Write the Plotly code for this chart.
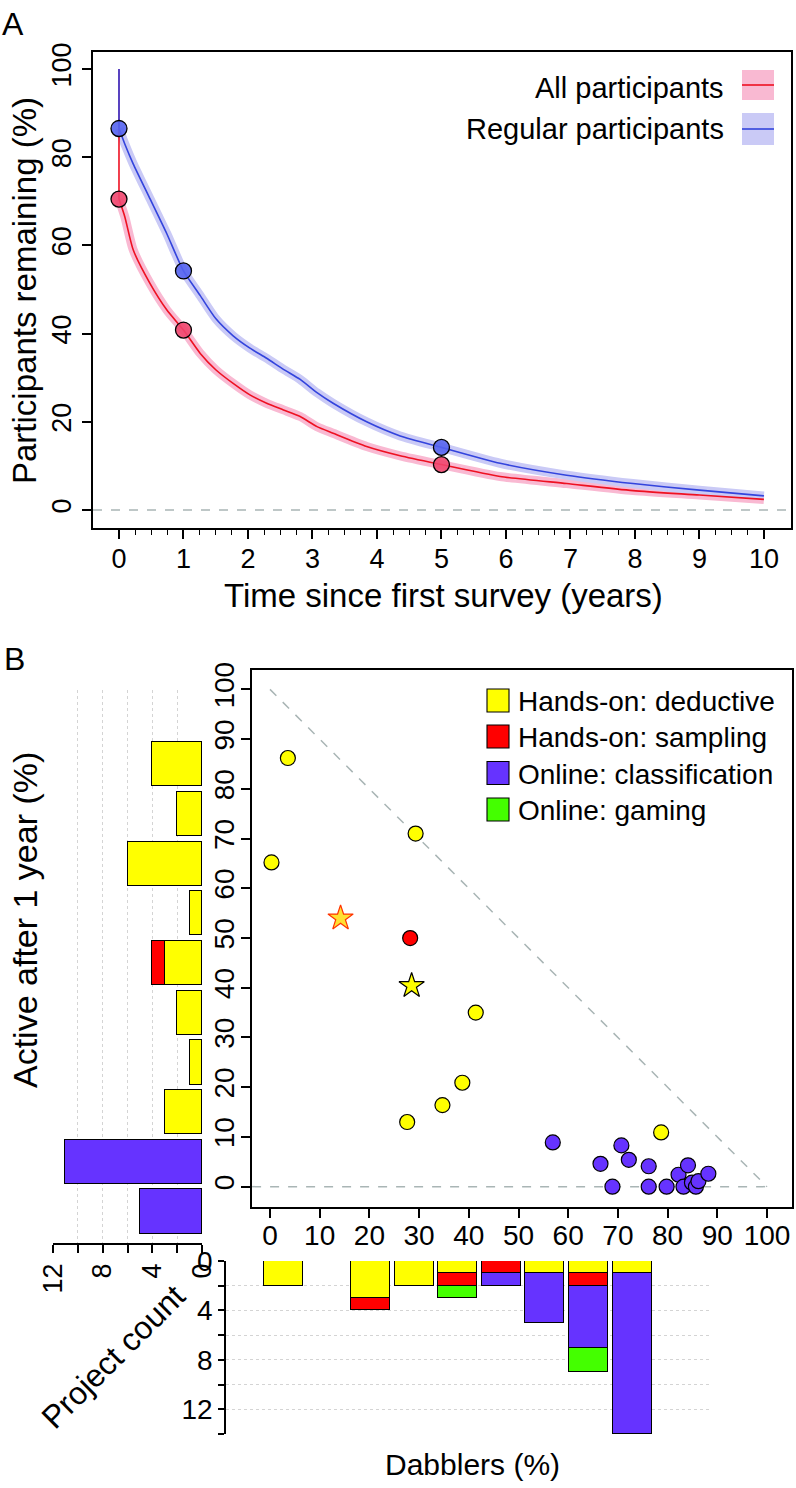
import plotly.graph_objects as go

W, H = 796, 1488
FONT = "Liberation Sans, Arial, Helvetica, sans-serif"


def fx(p):
    return p / W


def fy(p):
    return 1 - p / H


# ---------------- Panel A data ----------------
years = [0, 0, 0.09, 0.22, 0.48, 0.74, 1.0, 1.26, 1.5, 1.77, 2.03, 2.29, 2.55, 2.81,
         3.07, 3.32, 3.84, 4.36, 5.0, 5.91, 6.94, 7.97, 9.0, 10.0]
all_participants = [100, 70.5, 66.5, 59.0, 51.4, 45.4, 40.8, 35.5, 31.8, 28.7, 26.1, 24.2,
                    22.7, 21.2, 18.9, 17.4, 14.4, 12.3, 10.3, 7.6, 6.0, 4.4, 3.4, 2.4]
regular_participants = [100, 86.5, 83.0, 78.5, 70.6, 62.7, 54.2, 48.6, 43.4, 39.5, 36.7, 34.4,
                        31.9, 29.6, 26.6, 24.2, 20.0, 16.8, 14.2, 10.6, 7.9, 6.0, 4.5, 3.2]
key_years = [0, 1, 5]
key_all = [70.5, 40.8, 10.3]
key_regular = [86.5, 54.2, 14.2]
year_ticks = list(range(0, 11))
pct_ticks_a = [0, 20, 40, 60, 80, 100]

# ---------------- Panel B scatter data ----------------
deductive_x = [0.3, 3.6, 29.3, 41.4, 38.7, 34.7, 27.6, 78.7]
deductive_y = [65.2, 86.2, 71.0, 35.0, 20.9, 16.4, 13.0, 10.9]
sampling_x = [28.2]
sampling_y = [50.0]
classification_x = [56.9, 66.5, 70.7, 72.2, 68.9, 76.2, 76.2, 79.8, 82.2, 84.1, 83.2, 84.9,
                    85.7, 86.2, 88.2]
classification_y = [8.9, 4.6, 8.3, 5.4, 0.0, 4.1, 0.0, 0.0, 2.4, 4.3, 0.0, 0.8, 0.0, 1.1, 2.6]
star_x = [14.2, 28.5]
star_y = [54.0, 40.4]
pct_ticks_b = list(range(0, 101, 10))

# left histogram (Active after 1 year, bins of 10)
active_bins = [-5, 5, 15, 25, 35, 45, 55, 65, 75, 85]
left_deductive = [0, 0, 3, 1, 2, 3, 1, 6, 2, 4]
left_sampling = [0, 0, 0, 0, 0, 1, 0, 0, 0, 0]
left_classification = [5, 11, 0, 0, 0, 0, 0, 0, 0, 0]
left_gaming = [0, 0, 0, 0, 0, 0, 0, 0, 0, 0]

# bottom histogram (Dabblers, bins of 10)
dabbler_bins = [5, 15, 25, 35, 45, 55, 65, 75, 85]
bottom_deductive = [2, 0, 3, 2, 1, 0, 1, 1, 1]
bottom_sampling = [0, 0, 1, 0, 1, 1, 0, 1, 0]
bottom_classification = [0, 0, 0, 0, 0, 1, 4, 5, 13]
bottom_gaming = [0, 0, 0, 0, 1, 0, 0, 2, 0]
count_ticks = [0, 2, 4, 6, 8, 10, 12]
count_ticks_bottom = [0, 2, 4, 6, 8, 10, 12, 14]

categories = ["Hands-on: deductive", "Hands-on: sampling", "Online: classification", "Online: gaming"]
cat_colors = ["#FFFF00", "#FF0000", "#6633FF", "#44FF00"]

RED_LINE = "#EE1122"
BLUE_LINE = "#3344DD"
RED_BAND = "#F9B9D2"
BLUE_BAND = "#CACAF6"

fig = go.Figure()

# ---- Panel A ----
curve_shape = dict(shape="spline", smoothing=0.6)
series = [(all_participants, RED_BAND, RED_LINE), (regular_participants, BLUE_BAND, BLUE_LINE)]
# confidence bands (drawn as wide translucent strokes)
for vals, band, _ in series:
    fig.add_trace(go.Scatter(x=years[1:], y=vals[1:], mode="lines",
                             line=dict(color=band, width=9, **curve_shape), xaxis="x", yaxis="y"))
# initial vertical drop at t = 0, then the survival curves
for vals, _, col in series:
    fig.add_trace(go.Scatter(x=years[:2], y=vals[:2], mode="lines",
                             line=dict(color=col, width=1.6), xaxis="x", yaxis="y"))
for vals, _, col in series:
    fig.add_trace(go.Scatter(x=years[1:], y=vals[1:], mode="lines",
                             line=dict(color=col, width=1.6, **curve_shape), xaxis="x", yaxis="y"))
fig.add_trace(go.Scatter(x=key_years, y=key_all, mode="markers",
                         marker=dict(size=16, color="rgba(240,70,110,0.9)",
                                     line=dict(color="black", width=1.3)),
                         xaxis="x", yaxis="y"))
fig.add_trace(go.Scatter(x=key_years, y=key_regular, mode="markers",
                         marker=dict(size=16, color="rgba(85,100,240,0.9)",
                                     line=dict(color="black", width=1.3)),
                         xaxis="x", yaxis="y"))

# ---- Panel B scatter ----
fig.add_trace(go.Scatter(x=deductive_x, y=deductive_y, mode="markers",
                         marker=dict(size=15, color=cat_colors[0], line=dict(color="black", width=1.2)),
                         xaxis="x2", yaxis="y2"))
fig.add_trace(go.Scatter(x=sampling_x, y=sampling_y, mode="markers",
                         marker=dict(size=15, color=cat_colors[1], line=dict(color="black", width=1.2)),
                         xaxis="x2", yaxis="y2"))
fig.add_trace(go.Scatter(x=classification_x, y=classification_y, mode="markers",
                         marker=dict(size=15, color=cat_colors[2], line=dict(color="black", width=1.2)),
                         xaxis="x2", yaxis="y2"))
fig.add_trace(go.Scatter(x=star_x, y=star_y, mode="markers",
                         marker=dict(symbol="star", size=19, color=["#FFE033", "#FFFF00"],
                                     line=dict(color=["#FF3300", "black"], width=1.2)),
                         xaxis="x2", yaxis="y2"))

# ---- left histogram ----
for vals, col in zip([left_deductive, left_sampling, left_classification, left_gaming], cat_colors):
    fig.add_trace(go.Bar(x=vals, y=active_bins, orientation="h", width=8.9,
                         marker=dict(color=col, line=dict(color="black", width=1.1)),
                         xaxis="x3", yaxis="y3"))

# ---- bottom histogram ----
for vals, col in zip([bottom_deductive, bottom_sampling, bottom_classification, bottom_gaming], cat_colors):
    fig.add_trace(go.Bar(x=dabbler_bins, y=vals, width=8.95,
                         marker=dict(color=col, line=dict(color="black", width=1.1)),
                         xaxis="x4", yaxis="y4"))

axis_common = dict(showgrid=False, zeroline=False, showline=True, linecolor="black",
                   linewidth=1.5, ticks="outside", tickcolor="black", tickwidth=1.5,
                   automargin=False, fixedrange=True)

shapes = [
    # Panel A zero line
    dict(type="line", xref="x domain", yref="y", x0=0, x1=1, y0=0, y1=0,
         line=dict(color="#A9B5B5", width=1.5, dash="dash"), layer="below"),
    # Scatter reference lines
    dict(type="line", xref="x2", yref="y2", x0=-3.6, x1=100, y0=0, y1=0,
         line=dict(color="#A9B5B5", width=1.5, dash="dash"), layer="below"),
    dict(type="line", xref="x2", yref="y2", x0=0, x1=100, y0=100, y1=0,
         line=dict(color="#A9B5B5", width=1.5, dash="dash"), layer="below"),
    # Panel A legend swatches
    dict(type="rect", xref="paper", yref="paper", x0=fx(742), x1=fx(774), y0=fy(100), y1=fy(70),
         fillcolor=RED_BAND, line=dict(width=0)),
    dict(type="line", xref="paper", yref="paper", x0=fx(742), x1=fx(774), y0=fy(85), y1=fy(85),
         line=dict(color=RED_LINE, width=1.6)),
    dict(type="rect", xref="paper", yref="paper", x0=fx(742), x1=fx(774), y0=fy(145), y1=fy(113),
         fillcolor=BLUE_BAND, line=dict(width=0)),
    dict(type="line", xref="paper", yref="paper", x0=fx(742), x1=fx(774), y0=fy(129), y1=fy(129),
         line=dict(color=BLUE_LINE, width=1.6)),
]

annotations = [
    dict(text="A", x=fx(13), y=fy(24), font=dict(size=32)),
    dict(text="B", x=fx(14), y=fy(659), font=dict(size=32)),
    dict(text="Participants remaining (%)", x=fx(24), y=fy(291), textangle=-90, font=dict(size=33)),
    dict(text="Time since first survey (years)", x=fx(443), y=fy(595), font=dict(size=33)),
    dict(text="Active after 1 year (%)", x=fx(25), y=fy(920), textangle=-90, font=dict(size=34)),
    dict(text="Project count", x=fx(113), y=fy(1357), textangle=-45, font=dict(size=32)),
    dict(text="Dabblers (%)", x=fx(472), y=fy(1464), font=dict(size=30)),
    dict(text="All participants", x=fx(726), y=fy(88), xanchor="right", font=dict(size=29)),
    dict(text="Regular participants", x=fx(726), y=fy(129), xanchor="right", font=dict(size=29)),
]

legend_rows = [700.5, 736.5, 773, 809.5]
for name, col, yc in zip(categories, cat_colors, legend_rows):
    shapes.append(dict(type="rect", xref="paper", yref="paper", x0=fx(487), x1=fx(509),
                       y0=fy(yc + 11.5), y1=fy(yc - 11.5), fillcolor=col,
                       line=dict(color="black", width=1.1)))
    annotations.append(dict(text=name, x=fx(516), y=fy(yc + 1), xanchor="left", font=dict(size=28)))

for a in annotations:
    a.setdefault("xref", "paper")
    a.setdefault("yref", "paper")
    a.setdefault("showarrow", False)
    a.setdefault("xanchor", "center")
    a.setdefault("yanchor", "middle")
    a["font"] = dict(family=FONT, color="black", **a["font"])

fig.update_layout(
    width=W, height=H, margin=dict(l=0, r=0, t=0, b=0),
    paper_bgcolor="white", plot_bgcolor="white", showlegend=False,
    barmode="stack", bargap=0,
    font=dict(family=FONT, color="black"),
    xaxis=dict(axis_common, domain=[fx(93), fx(791)], range=[-0.403, 10.42], anchor="y",
               tickmode="array", tickvals=year_ticks, ticklen=9, mirror=True,
               tickfont=dict(size=27), ticklabelstandoff=-3,
               minor=dict(tickmode="array", tickvals=[i * 0.25 for i in range(41)],
                          ticks="outside", ticklen=5, tickcolor="black", tickwidth=1.3)),
    yaxis=dict(axis_common, domain=[fy(528), fy(52)], range=[-4.08, 103.85], anchor="x",
               tickmode="array", tickvals=pct_ticks_a, ticklen=9, mirror=True, tickangle=-90,
               tickfont=dict(size=27)),
    xaxis2=dict(axis_common, domain=[fx(252), fx(792)], range=[-3.62, 105.03], anchor="y2",
                tickmode="array", tickvals=pct_ticks_b, ticklen=9, mirror=True,
                tickfont=dict(size=28), ticklabelstandoff=-6),
    yaxis2=dict(axis_common, domain=[fy(1207), fy(670)], range=[-4.09, 103.9], anchor="x2",
                tickmode="array", tickvals=pct_ticks_b, ticklen=9, mirror=True, tickangle=-90,
                tickfont=dict(size=28), ticklabelstandoff=-4),
    xaxis3=dict(axis_common, domain=[fx(53), fx(202)], range=[12, 0], anchor="y3",
                tickmode="array", tickvals=count_ticks,
                ticktext=["0", "", "4", "", "8", "", "12"], ticklen=8, tickangle=-90,
                tickfont=dict(size=27), showgrid=True, gridcolor="#D4D4D4", griddash="dot",
                gridwidth=1),
    yaxis3=dict(domain=[fy(1243), fy(690)], range=[-11.33, 99.94], anchor="x3", visible=False,
                fixedrange=True),
    xaxis4=dict(domain=[fx(226), fx(710)], range=[-8.14, 102.87], anchor="y4", visible=False,
                fixedrange=True),
    yaxis4=dict(axis_common, domain=[fy(1434), fy(1261)], range=[14, 0], anchor="x4",
                tickmode="array", tickvals=count_ticks_bottom,
                ticktext=["0", "", "4", "", "8", "", "12", ""], ticklen=6,
                tickfont=dict(size=28), showgrid=True, gridcolor="#D4D4D4", griddash="dot",
                gridwidth=1),
    shapes=shapes,
    annotations=annotations,
)

fig.write_html("out.html", config={"displayModeBar": False},
               post_script="document.body.style.margin='0px';document.body.style.overflow='hidden';")
